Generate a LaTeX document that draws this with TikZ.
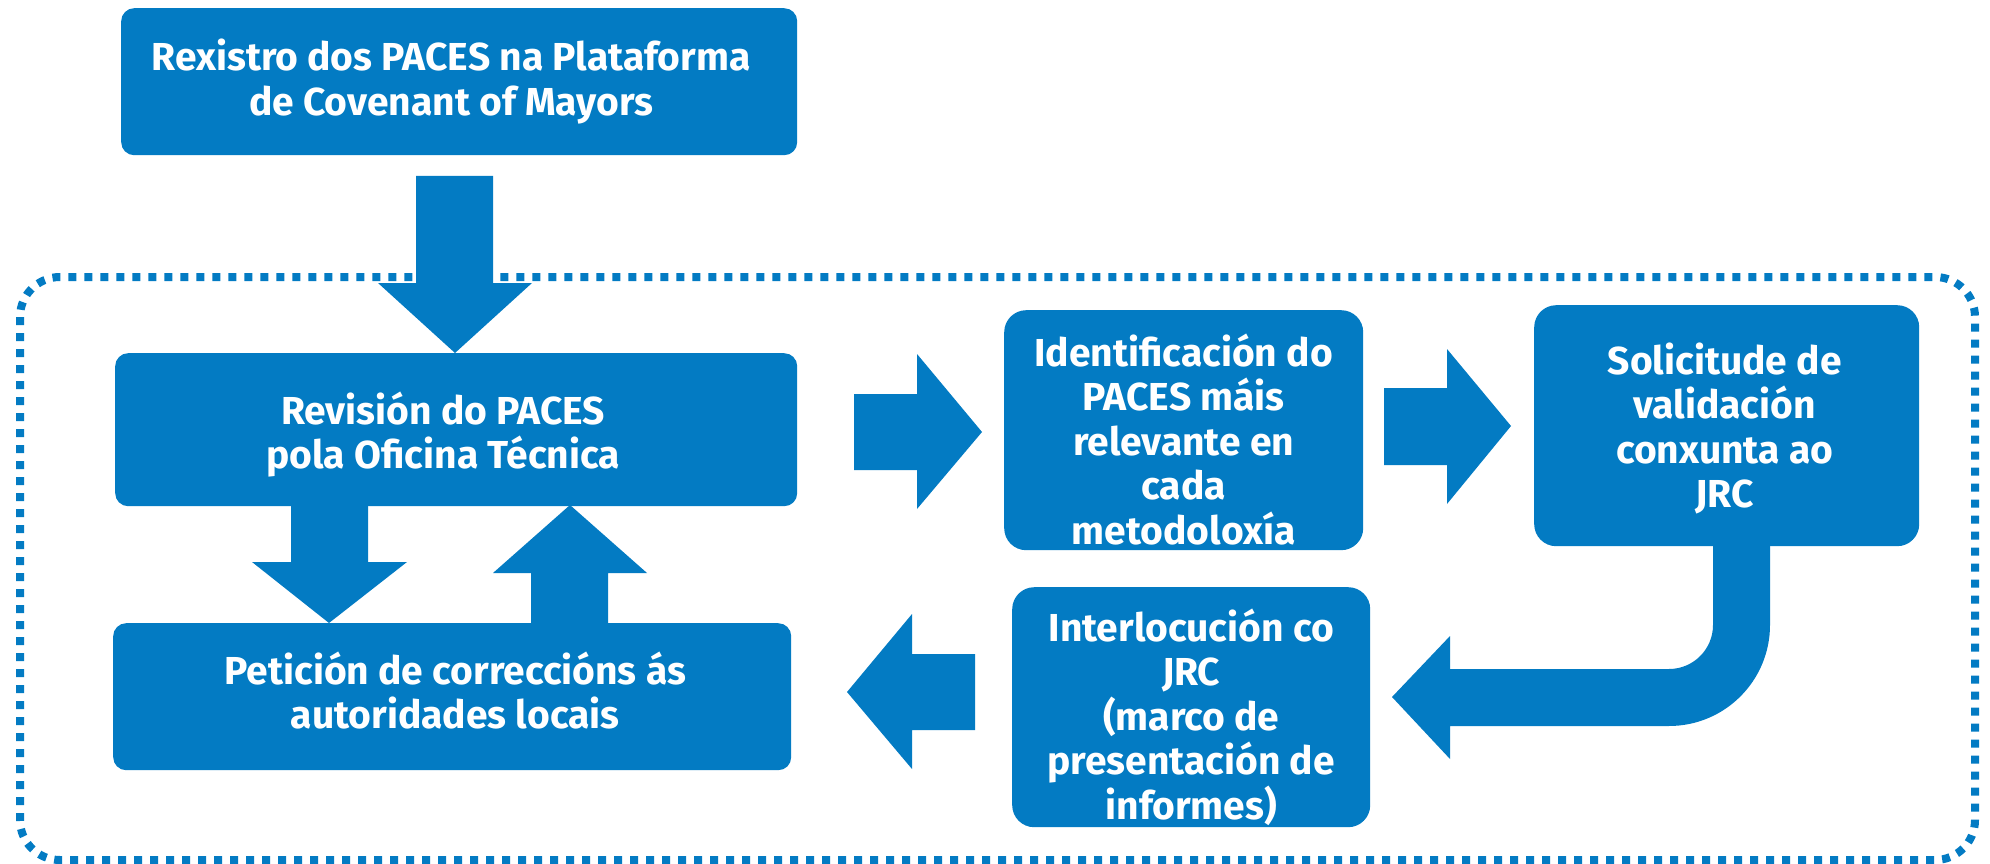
\documentclass[tikz,border=0pt]{standalone}
\usepackage{fontspec}
\setmainfont{Fira Sans}
\definecolor{cblue}{RGB}{3,123,195}
\begin{document}
\begin{tikzpicture}[x=1pt,y=-1pt,
  box/.style={fill=cblue, draw=none, inner sep=0pt, anchor=north west},
  wide/.style={box, rounded corners=13pt},
  tall/.style={box, rounded corners=22pt},
  lbl/.style={text=white, font=\bfseries\fontsize{39}{44.5}\selectfont, align=center, inner sep=0pt},
  blk/.style={fill=cblue, draw=none},
  frame/.style={draw=cblue, line width=8pt, dash pattern=on 8pt off 8pt, rounded corners=40pt}]
\useasboundingbox (0,0) rectangle (1990,864);
% dotted group frame
\draw[frame] (20,277) rectangle (1975,860);
% boxes
\node[wide, minimum width=676pt, minimum height=147pt] (reg) at (121,8) {};
\node[wide, minimum width=682pt, minimum height=153pt] (rev) at (115,353) {};
\node[wide, minimum width=678pt, minimum height=147pt] (pet) at (113,623) {};
\node[tall, minimum width=359pt, minimum height=240pt] (ide) at (1004,310) {};
\node[tall, minimum width=385pt, minimum height=241pt] (sol) at (1534,305) {};
\node[tall, minimum width=358pt, minimum height=240pt] (int) at (1012,587) {};
% texts
\node[lbl] (regt) at ([xshift=-8pt]reg.center) {Rexistro dos PACES na Plataforma\\de Covenant of Mayors};
\node[lbl] (revt) at ([xshift=-13pt,yshift=-5pt]rev.center) {Revisión do PACES\\pola Oficina Técnica};
\node[lbl] (pett) at ([xshift=3pt,yshift=6pt]pet.center) {Petición de correccións ás\\autoridades locais};
\node[lbl] (idet) at ([yshift=-9pt]ide.center) {Identificación do\\PACES máis\\relevante en\\cada\\metodoloxía};
\node[lbl] (solt) at ([xshift=-2pt,yshift=-3pt]sol.center) {Solicitude de\\validación\\conxunta ao\\JRC};
\node[lbl] (intt) at ([yshift=-10pt]int.center) {Interlocución co\\JRC\\(marco de\\presentación de\\informes)};
% block arrows
\fill[blk] (416,176) -- (493,176) -- (493,283) -- (532,283) -- (455,353) -- (378,283) -- (416,283) -- cycle;
\fill[blk] (291,500) -- (368,500) -- (368,562) -- (407,562) -- (329,623) -- (252,562) -- (291,562) -- cycle;
\fill[blk] (531,628) -- (608,628) -- (608,573) -- (647,573) -- (570,505) -- (493,573) -- (531,573) -- cycle;
\fill[blk] (854,394) -- (917,394) -- (917,354) -- (982,432) -- (917,509) -- (917,470) -- (854,470) -- cycle;
\fill[blk] (1384,388) -- (1447,388) -- (1447,349) -- (1511,426) -- (1447,504) -- (1447,465) -- (1384,465) -- cycle;
\fill[blk] (975,654) -- (912,654) -- (912,614) -- (847,692) -- (912,769) -- (912,730) -- (975,730) -- cycle;
\fill[blk] (1713,540) -- (1713,625) arc[start angle=0, end angle=-90, radius=44pt] -- (1450,669) -- (1450,636) -- (1392,697) -- (1450,759) -- (1450,726) -- (1669,726) arc[start angle=-90, end angle=0, radius=101pt] -- (1770,540) -- cycle;
\end{tikzpicture}
\end{document}
